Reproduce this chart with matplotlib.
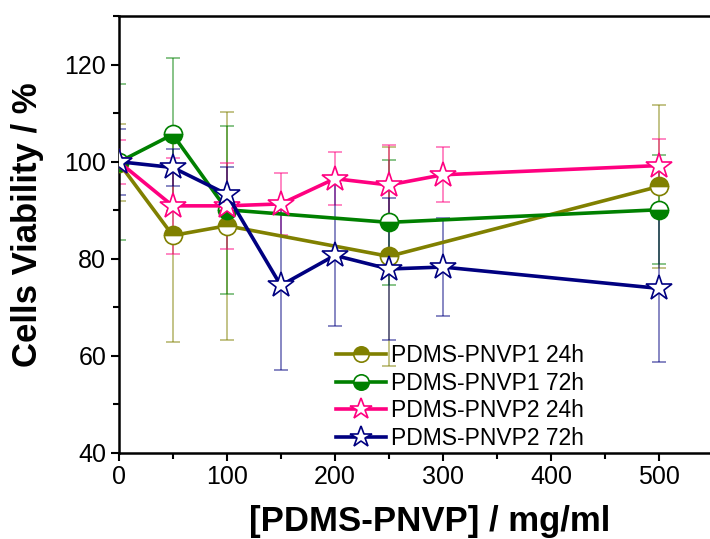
import matplotlib
matplotlib.use("Agg")
import matplotlib.pyplot as plt
from matplotlib.ticker import MultipleLocator

plt.rcParams['font.family'] = ['Liberation Sans', 'DejaVu Sans']

# Data
x_p1 = [0, 50, 100, 250, 500]
p1_24 = [99.8, 84.8, 86.8, 80.5, 94.9]
p1_24_err = [8.0, 22.0, 23.5, 22.5, 16.7]
p1_72 = [99.9, 105.6, 90.1, 87.5, 90.1]
p1_72_err = [16.0, 15.7, 17.3, 12.9, 11.2]

x_p2 = [0, 50, 100, 150, 200, 250, 300, 500]
p2_24 = [100.0, 90.9, 90.9, 91.3, 96.5, 95.2, 97.3, 99.2]
p2_24_err = [4.5, 9.9, 8.8, 6.4, 5.4, 8.2, 5.7, 5.4]
p2_72 = [100.0, 98.8, 93.3, 74.5, 80.7, 77.9, 78.3, 73.9]
p2_72_err = [6.8, 3.9, 5.6, 17.5, 14.6, 14.7, 10.1, 15.2]

labels = ["PDMS-PNVP1 24h", "PDMS-PNVP1 72h", "PDMS-PNVP2 24h", "PDMS-PNVP2 72h"]
x_ticks = [0, 100, 200, 300, 400, 500]
y_ticks = [40, 60, 80, 100, 120]

fig = plt.figure(figsize=(7.10, 5.39), dpi=100)
ax = fig.add_axes([118.7 / 710, (539 - 453) / 539, (712 - 118.7) / 710, (453 - 16) / 539])

series = [
    (x_p1, p1_24, p1_24_err, '#808000', dict(marker='o', fillstyle='top')),
    (x_p1, p1_72, p1_72_err, '#008000', dict(marker='o', fillstyle='bottom')),
    (x_p2, p2_24, p2_24_err, '#FF0080', dict(marker='*', fillstyle='full', markerfacecolor='white')),
    (x_p2, p2_72, p2_72_err, '#000080', dict(marker='*', fillstyle='full', markerfacecolor='white')),
]

handles = []
for i, (xs, ys, es, c, mk) in enumerate(series):
    ax.errorbar(xs, ys, yerr=es, fmt='none', ecolor=c, alpha=0.55, elinewidth=1.2,
                capsize=5, capthick=1.2, zorder=2 + i * 0.1)
    ms = 13 if mk['marker'] == 'o' else 19
    kw = dict(color=c, lw=2.6, markersize=ms, markeredgecolor=c, markeredgewidth=1.2,
              zorder=3 + i * 0.1, label=labels[i])
    if mk['marker'] == 'o':
        kw.update(marker='o', fillstyle=mk['fillstyle'], markerfacecolor=c,
                  markerfacecoloralt='white')
    else:
        kw.update(marker='*', markerfacecolor='white')
    h, = ax.plot(xs, ys, **kw)
    handles.append(h)

ax.set_xlim(0, 549)
ax.set_ylim(40, 130)
ax.set_xticks(x_ticks)
ax.set_yticks(y_ticks)
ax.xaxis.set_minor_locator(MultipleLocator(50))
ax.yaxis.set_minor_locator(MultipleLocator(10))
ax.tick_params(axis='both', which='major', direction='out', length=6, width=1.5,
               labelsize=18, pad=3, colors='black')
ax.tick_params(axis='both', which='minor', direction='out', length=4, width=1.5)
ax.tick_params(axis='x', which='both', top=True)
ax.tick_params(axis='x', which='major', top=True, direction='out')
for s in ['left', 'bottom', 'top']:
    ax.spines[s].set_linewidth(1.8)
ax.spines['right'].set_visible(False)
ax.tick_params(axis='x', which='both', top=False)

fig.text(430 / 710, 1 - 522 / 539, "[PDMS-PNVP] / mg/ml", ha='center', va='center',
         fontsize=25, fontweight='bold')
fig.text(28 / 710, 1 - 225 / 539, "Cells Viability / %", ha='center', va='center',
         fontsize=25, fontweight='bold', rotation=90)

leg = ax.legend(handles=handles, loc='upper left', bbox_to_anchor=(0.35, 0.27),
                frameon=False, fontsize=16.5, handlelength=2.2, handletextpad=0.2,
                labelspacing=0.2, borderaxespad=0, markerscale=0.85)

fig.savefig("out.png", dpi=100)
